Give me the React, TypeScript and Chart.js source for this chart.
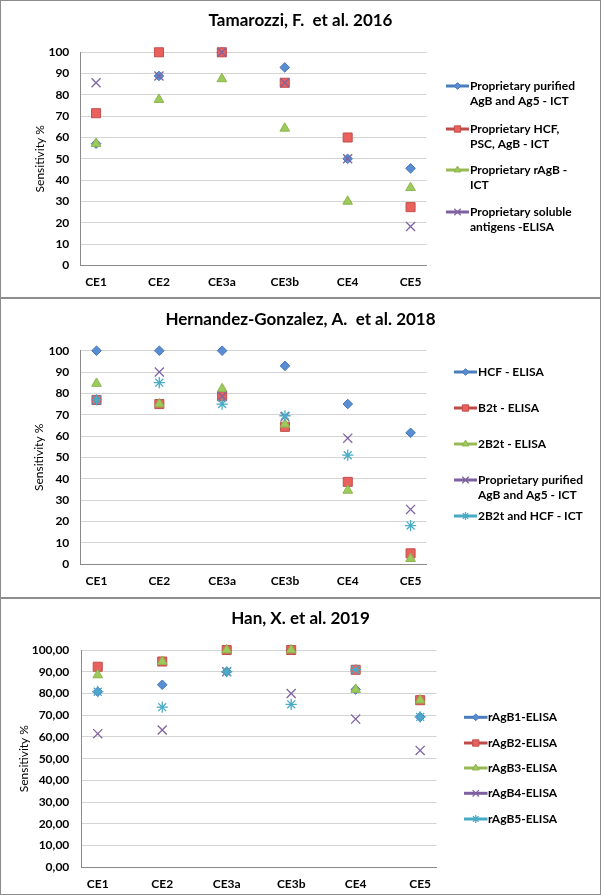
import React, { useEffect, useRef } from 'react';
import { Chart, registerables } from 'chart.js';
import { drawPoint } from 'chart.js/helpers';

Chart.register(...registerables);

// ---------- data ----------
const categories = ['CE1', 'CE2', 'CE3a', 'CE3b', 'CE4', 'CE5'];
const yTickValues = [0, 10, 20, 30, 40, 50, 60, 70, 80, 90, 100];
const yTickLabelsInt = ['0', '10', '20', '30', '40', '50', '60', '70', '80', '90', '100'];
const yTickLabelsDec = ['0,00', '10,00', '20,00', '30,00', '40,00', '50,00', '60,00', '70,00', '80,00', '90,00', '100,00'];
const yAxisTitle = 'Sensitivity %';

// Tamarozzi, F. et al. 2016
const tamTitle = 'Tamarozzi, F.  et al. 2016';
const tamLabels = [
  'Proprietary purified\nAgB and Ag5 - ICT',
  'Proprietary HCF,\nPSC, AgB - ICT',
  'Proprietary rAgB -\nICT',
  'Proprietary soluble\nantigens -ELISA',
];
const tamPurifiedICT = [57.1, 88.9, 100, 92.9, 50, 45.5];
const tamHcfPscICT = [71.4, 100, 100, 85.7, 60, 27.3];
const tamRAgBICT = [57.1, 77.8, 87.5, 64.3, 30, 36.4];
const tamSolubleELISA = [85.7, 88.9, 100, 85.7, 50, 18.2];

// Hernandez-Gonzalez, A. et al. 2018
const hgTitle = 'Hernandez-Gonzalez, A.  et al. 2018';
const hgLabels = [
  'HCF - ELISA',
  'B2t - ELISA',
  '2B2t - ELISA',
  'Proprietary purified\nAgB and Ag5 - ICT',
  '2B2t and HCF - ICT',
];
const hgHcfELISA = [100, 100, 100, 92.9, 75, 61.5];
const hgB2tELISA = [76.9, 75, 78.6, 64.3, 38.5, 5];
const hg2B2tELISA = [84.6, 75, 82.1, 65.5, 34.5, 2.5];
const hgPurifiedICT = [76.9, 90, 78.6, 69, 59, 25.6];
const hg2B2tHcfICT = [76.9, 85, 75, 69.5, 51, 18];

// Han, X. et al. 2019
const hanTitle = 'Han, X. et al. 2019';
const hanLabels = ['rAgB1-ELISA', 'rAgB2-ELISA', 'rAgB3-ELISA', 'rAgB4-ELISA', 'rAgB5-ELISA'];
const hanRAgB1 = [80.8, 84, 90, 100, 81.8, 69.2];
const hanRAgB2 = [92.3, 94.7, 100, 100, 90.9, 76.9];
const hanRAgB3 = [88.5, 94.7, 100, 100, 81.8, 76.9];
const hanRAgB4 = [61.5, 63.2, 90, 80, 68.2, 53.8];
const hanRAgB5 = [80.8, 73.7, 90, 75, 90.9, 69.2];

// ---------- styles ----------
const FONT = 'Lato, "Open Sans", sans-serif';
const seriesStyles = [
  { pointStyle: 'rectRot', radius: 4.8, bg: '#5A8CD2', border: '#4678BE', bw: 1, line: '#4A7EBB' },
  { pointStyle: 'rect', radius: 6.4, bg: '#E9605C', border: '#C0504D', bw: 1, line: '#BE4B48' },
  { pointStyle: 'triangle', radius: 5.6, bg: '#9DCB5B', border: '#8DB44F', bw: 1, line: '#98B954' },
  { pointStyle: 'crossRot', radius: 6.4, bg: 'rgba(0,0,0,0)', border: '#8064A2', bw: 1.3, line: '#7D60A0' },
  { pointStyle: 'star', radius: 5.6, bg: 'rgba(0,0,0,0)', border: '#4BACC6', bw: 1.3, line: '#46AAC5' },
];

type PanelDef = {
  height: number;
  title: string;
  labels: string[];
  series: number[][];
  yLabels: string[];
  plotLeft: number;
  plotRight: number;
  plotTop: number;
  plotBottom: number;
  yLabelPad: number;
  yTitleX: number;
  titleY: number;
  legendY: number[];
  symX0: number;
  symX1: number;
  textX: number;
};

const panels: PanelDef[] = [
  {
    height: 298,
    title: tamTitle,
    labels: tamLabels,
    series: [tamPurifiedICT, tamHcfPscICT, tamRAgBICT, tamSolubleELISA],
    yLabels: yTickLabelsInt,
    plotLeft: 80, plotRight: 426.6, plotTop: 52.3, plotBottom: 265.3,
    yLabelPad: 10.7, yTitleX: 40, titleY: 21,
    legendY: [86, 129, 170, 212], symX0: 446, symX1: 469, textX: 470,
  },
  {
    height: 300,
    title: hgTitle,
    labels: hgLabels,
    series: [hgHcfELISA, hgB2tELISA, hg2B2tELISA, hgPurifiedICT, hg2B2tHcfICT],
    yLabels: yTickLabelsInt,
    plotLeft: 80.5, plotRight: 426.6, plotTop: 52.7, plotBottom: 266,
    yLabelPad: 11.2, yTitleX: 39, titleY: 21.5,
    legendY: [74, 110, 146, 182, 218], symX0: 454, symX1: 477, textX: 478,
  },
  {
    height: 297,
    title: hanTitle,
    labels: hanLabels,
    series: [hanRAgB1, hanRAgB2, hanRAgB3, hanRAgB4, hanRAgB5],
    yLabels: yTickLabelsDec,
    plotLeft: 81.3, plotRight: 436.6, plotTop: 52, plotBottom: 269.3,
    yLabelPad: 12, yTitleX: 24, titleY: 21,
    legendY: [119.3, 145, 170, 195.3, 221], symX0: 464, symX1: 487.5, textX: 488,
  },
];

const WIDTH = 601;

const decorPlugin = {
  id: 'panelDecor',
  afterDraw(chart: any, _args: any, opts: any) {
    const ctx = chart.ctx as CanvasRenderingContext2D;
    ctx.save();
    // title
    ctx.fillStyle = '#000';
    ctx.font = `bold ${opts.titleSize}px ${FONT}`;
    ctx.textAlign = 'center';
    ctx.textBaseline = 'middle';
    ctx.fillText(opts.title, opts.titleX, opts.titleY);
    // legend
    ctx.textAlign = 'left';
    ctx.font = `${opts.legendWeight} ${opts.legendSize}px ${FONT}`;
    chart.data.datasets.forEach((ds: any, i: number) => {
      const y0 = opts.legendY[i];
      ctx.strokeStyle = ds.borderColor;
      ctx.lineWidth = 3;
      ctx.lineCap = 'butt';
      ctx.beginPath();
      ctx.moveTo(opts.symX0, y0);
      ctx.lineTo(opts.symX1, y0);
      ctx.stroke();
      ctx.fillStyle = ds.pointBackgroundColor;
      ctx.strokeStyle = ds.pointBorderColor;
      ctx.lineWidth = ds.pointBorderWidth;
      drawPoint(ctx, { pointStyle: ds.pointStyle, radius: ds.pointRadius * 0.7, rotation: 0, borderWidth: ds.pointBorderWidth } as any, (opts.symX0 + opts.symX1) / 2, y0);
      ctx.fillStyle = '#000';
      String(ds.label).split('\n').forEach((line: string, k: number) => {
        ctx.fillText(line, opts.textX, y0 + k * opts.lineH);
      });
    });
    ctx.restore();
  },
};

function Panel({ def }: { def: PanelDef }) {
  const ref = useRef<HTMLCanvasElement | null>(null);
  useEffect(() => {
    if (!ref.current) return;
    const n = def.series.length;
    const datasets = def.series.map((vals, i) => {
      const st = seriesStyles[i];
      return {
        label: def.labels[i],
        data: vals.map((v, j) => ({ x: j, y: v })),
        showLine: false,
        clip: false as any,
        order: n - i,
        pointStyle: st.pointStyle,
        pointRadius: st.radius,
        pointBackgroundColor: st.bg,
        pointBorderColor: st.border,
        pointBorderWidth: st.bw,
        borderColor: st.line,
        backgroundColor: st.bg,
      };
    });
    const chart = new Chart(ref.current, {
      type: 'line',
      data: { datasets } as any,
      plugins: [decorPlugin as any],
      options: {
        animation: false,
        responsive: false,
        devicePixelRatio: 1,
        layout: { padding: { left: 0, top: def.plotTop, right: WIDTH - def.plotRight, bottom: 0 } },
        plugins: {
          legend: { display: false },
          title: { display: false },
          tooltip: { enabled: false },
          panelDecor: {
            title: def.title, titleX: 300.5, titleY: def.titleY, titleSize: 17,
            legendY: def.legendY, symX0: def.symX0, symX1: def.symX1, textX: def.textX,
            legendSize: 12, legendWeight: 'bold', lineH: 14.8,
          },
        } as any,
        scales: {
          x: {
            type: 'linear',
            min: -0.255,
            max: 5.255,
            afterBuildTicks: (s: any) => { s.ticks = categories.map((_, i) => ({ value: i })); },
            afterFit: (s: any) => { s.height = def.height - def.plotBottom; },
            grid: { display: true, color: 'rgba(0,0,0,0)', drawTicks: false },
            border: { display: true, color: '#8a8a8a', width: 1 },
            ticks: {
              callback: (v: any) => categories[Math.round(Number(v))],
              color: '#000',
              font: { family: FONT, size: 12, weight: 'bold' },
              padding: 9.5,
              maxRotation: 0,
              autoSkip: false,
            },
          },
          y: {
            type: 'linear',
            min: 0,
            max: 100,
            afterBuildTicks: (s: any) => { s.ticks = yTickValues.map((v) => ({ value: v })); },
            afterFit: (s: any) => { s.width = def.plotLeft; },
            grid: { color: '#d4d4d4', drawTicks: false, lineWidth: 1 },
            border: { display: true, color: '#8a8a8a', width: 1 },
            ticks: {
              callback: (v: any) => def.yLabels[yTickValues.indexOf(Number(v))],
              color: '#000',
              font: { family: FONT, size: 12, weight: 'bold' },
              padding: def.yLabelPad,
            },
            title: {
              display: true,
              text: yAxisTitle,
              color: '#000',
              font: { family: FONT, size: 12, weight: 'normal', lineHeight: 1.2 },
              padding: { top: def.yTitleX - 7.2, bottom: 0 },
            },
          },
        },
      } as any,
    });
    return () => chart.destroy();
  }, [def]);
  return (
    <div style={{ position: 'relative', width: WIDTH, height: def.height }}>
      <canvas ref={ref} width={WIDTH} height={def.height} style={{ display: 'block' }} />
      <div
        style={{
          position: 'absolute', left: 0, top: 0, right: 0, bottom: 0,
          border: '1px solid #8c8c8c', boxSizing: 'border-box', pointerEvents: 'none',
        }}
      />
    </div>
  );
}

export default function App() {
  return (
    <div style={{ width: WIDTH, background: '#fff' }}>
      <style>{'body{margin:0;background:#fff;}'}</style>
      {panels.map((p, i) => (
        <Panel key={i} def={p} />
      ))}
    </div>
  );
}
